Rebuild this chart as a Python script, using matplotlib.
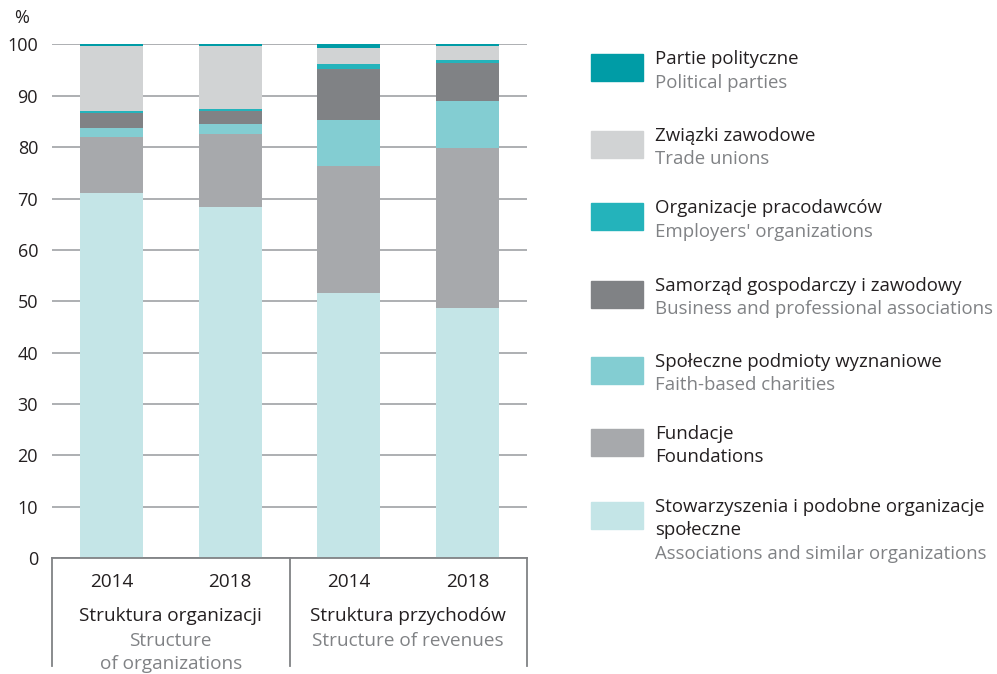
import numpy as np
import matplotlib
matplotlib.use('Agg')
import matplotlib.pyplot as plt
from matplotlib.patches import Rectangle

plt.rcParams['font.family'] = ['Open Sans', 'DejaVu Sans']

# bars: (group, year)
years = ['2014', '2018', '2014', '2018']
groups_pl = ['Struktura organizacji', 'Struktura przychodów']
groups_en = [['Structure', 'of organizations'], ['Structure of revenues']]

# series from bottom to top, shares in %
series_pl = [['Stowarzyszenia i podobne organizacje', 'społeczne'], ['Fundacje'],
             ['Społeczne podmioty wyznaniowe'], ['Samorząd gospodarczy i zawodowy'],
             ['Organizacje pracodawców'], ['Związki zawodowe'], ['Partie polityczne']]
series_en = ['Associations and similar organizations', 'Foundations',
             'Faith-based charities', 'Business and professional associations',
             "Employers' organizations", 'Trade unions', 'Political parties']
stowarzyszenia = [71.1, 68.3, 51.6, 48.7]
fundacje = [10.9, 14.3, 24.8, 31.2]
wyznaniowe = [1.7, 1.9, 8.9, 9.1]
samorzad = [3.0, 2.5, 9.9, 7.4]
pracodawcy = [0.3, 0.4, 1.0, 0.5]
zwiazki = [12.7, 12.3, 3.1, 2.8]
partie = [0.3, 0.3, 0.7, 0.3]
colors = ['#c4e5e7', '#a7a9ac', '#83cdd2', '#808285', '#24b3bb', '#d1d3d4', '#009ca6']

BLACK = '#231f20'
GRAY = '#808285'
W, H = 997, 674
FS = 13.7
FS_LEG = 13.4


def fx(px):
    return px / W


def fy(py):
    return 1 - py / H


fig = plt.figure(figsize=(W / 100, H / 100), dpi=100)
ax = fig.add_axes([fx(52), fy(558.3), fx(527) - fx(52), fy(44.3) - fy(558.3)])

values = [stowarzyszenia, fundacje, wyznaniowe, samorzad, pracodawcy, zwiazki, partie]
x = np.arange(len(years))
bottom = np.zeros(len(years))
for vals, color in zip(values, colors):
    ax.bar(x, vals, bottom=bottom, width=0.53, color=color, zorder=2)
    bottom += np.array(vals)

ax.set_xlim(-0.5, 3.5)
ax.set_ylim(0, 100)
ax.set_yticks(range(0, 101, 10))
ax.set_xticks([])
ax.yaxis.grid(True, color='#a7a9ac', linewidth=1.3, zorder=0)
ax.set_axisbelow(True)
for side in ['top', 'right', 'left']:
    ax.spines[side].set_visible(False)
ax.spines['bottom'].set_color('#808285')
ax.spines['bottom'].set_linewidth(1.3)
ax.tick_params(axis='y', length=0, pad=10, labelsize=13, labelcolor=BLACK)
fig.text(fx(22), fy(18), '%', ha='center', va='center', fontsize=13, color=BLACK)

# category box under the axis
for xb in [-0.5, 1.5, 3.5]:
    ax.plot([xb, xb], [0, -21], color='#808285', linewidth=1.3, clip_on=False)
for xi, year in zip(x, years):
    ax.text(xi, -4.6, year, ha='center', va='center', fontsize=FS, color=BLACK)
for gi, (pl, en_lines) in enumerate(zip(groups_pl, groups_en)):
    xc = 2 * gi + 0.5
    ax.text(xc, -11.3, pl, ha='center', va='center', fontsize=FS, color=BLACK)
    for li, line in enumerate(en_lines):
        ax.text(xc, -16.1 - 4.5 * li, line, ha='center', va='center', fontsize=FS, color=GRAY)

# legend, top entry first
legend_patch_top = [54, 131, 203, 281, 357, 429, 502]
for i, top in enumerate(legend_patch_top):
    si = len(series_pl) - 1 - i
    fig.add_artist(Rectangle((fx(591), fy(top + 27)), fx(643) - fx(591), fy(top) - fy(top + 27),
                             color=colors[si], transform=fig.transFigure))
    lines = series_pl[si]
    for li, line in enumerate(lines):
        fig.text(fx(655), fy(top + 5 + 23 * li), line, ha='left', va='center', fontsize=FS_LEG,
                 color=BLACK)
    en = series_en[si]
    en_color = BLACK if en == 'Foundations' else GRAY
    fig.text(fx(655), fy(top + 5 + 23.5 * len(lines)), en, ha='left', va='center',
             fontsize=FS_LEG, color=en_color)

fig.savefig('out.png', dpi=100)
